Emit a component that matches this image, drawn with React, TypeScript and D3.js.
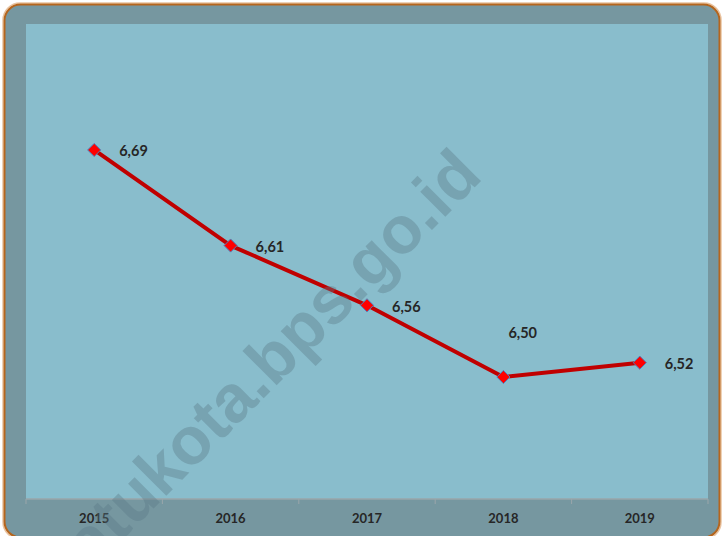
import React from "react";
import * as d3 from "d3";

const years = ["2015", "2016", "2017", "2018", "2019"];
const values = [6.69, 6.61, 6.56, 6.5, 6.512];
const labels = ["6,69", "6,61", "6,56", "6,50", "6,52"];
const watermark = "atukota.bps.go.id";

export default function App() {
  const W = 722;
  const H = 536;
  const plot = { left: 26, right: 708, top: 24, bottom: 499 };
  const x = d3.scaleBand<string>().domain(years).range([plot.left, plot.right]).padding(0);
  const y = d3.scaleLinear().domain([6.4, 6.8]).range([496.5, 18.5]);
  const cx = (yr: string) => (x(yr) as number) + x.bandwidth() / 2;
  const line = d3
    .line<number>()
    .x((_, i) => cx(years[i]))
    .y((v) => y(v));
  const diamond = d3.symbol().type(d3.symbolDiamond2).size(110)();
  const ticks = [...years.map((yr) => x(yr) as number), plot.right];

  return (
    <svg
      width={W}
      height={H}
      style={{ position: "absolute", left: 0, top: 0 }}
      fontFamily="Lato, 'Open Sans', sans-serif"
    >
      <defs>
        <clipPath id="frame">
          <rect x={4} y={4} width={716} height={534} rx={16} />
        </clipPath>
      </defs>
      <rect x={3} y={3} width={718} height={536} rx={17} fill="none" stroke="#e9c3a0" strokeWidth={1.5} />
      <rect x={4.5} y={4.5} width={715} height={533} rx={16} fill="#7697a0" stroke="#b5651d" strokeWidth={2} />
      <rect
        x={plot.left}
        y={plot.top}
        width={plot.right - plot.left}
        height={plot.bottom - plot.top}
        fill="#89bdcc"
      />
      <line x1={plot.left} x2={plot.right} y1={plot.bottom} y2={plot.bottom} stroke="#9aa6aa" strokeWidth={1.5} />
      {ticks.map((t, i) => (
        <line key={i} x1={t} x2={t} y1={plot.bottom} y2={plot.bottom + 5} stroke="#9aa6aa" strokeWidth={1} />
      ))}
      {years.map((yr) => (
        <text
          key={yr}
          x={cx(yr)}
          y={518}
          textAnchor="middle"
          dominantBaseline="central"
          fontWeight="bold"
          fontSize={13}
          fill="#262626"
        >
          {yr}
        </text>
      ))}
      <path d={line(values) || ""} fill="none" stroke="#c00000" strokeWidth={4} strokeLinejoin="round" />
      {values.map((v, i) => (
        <path
          key={i}
          d={diamond || ""}
          transform={`translate(${cx(years[i])},${y(v)})`}
          fill="#ff0000"
          stroke="#4f81bd"
          strokeWidth={1}
        />
      ))}
      {values.map((v, i) => {
        const above = i === 3;
        const px = cx(years[i]) + (above ? 5 : 25);
        const py = y(v) + (above ? -45 : 1);
        return (
          <text
            key={i}
            x={px}
            y={py}
            dominantBaseline="central"
            fontWeight="bold"
            fontSize={14.5}
            fill="#262626"
          >
            {labels[i]}
          </text>
        );
      })}
      <g clipPath="url(#frame)">
        <text
          x={0}
          y={0}
          transform="translate(288,374) rotate(-45)"
          textAnchor="middle"
          fontFamily="'Liberation Sans', Arial, sans-serif"
          fontWeight="bold"
          fontSize={67}
          fill="#5a7a85"
          fillOpacity={0.38}
        >
          {watermark}
        </text>
      </g>
    </svg>
  );
}
